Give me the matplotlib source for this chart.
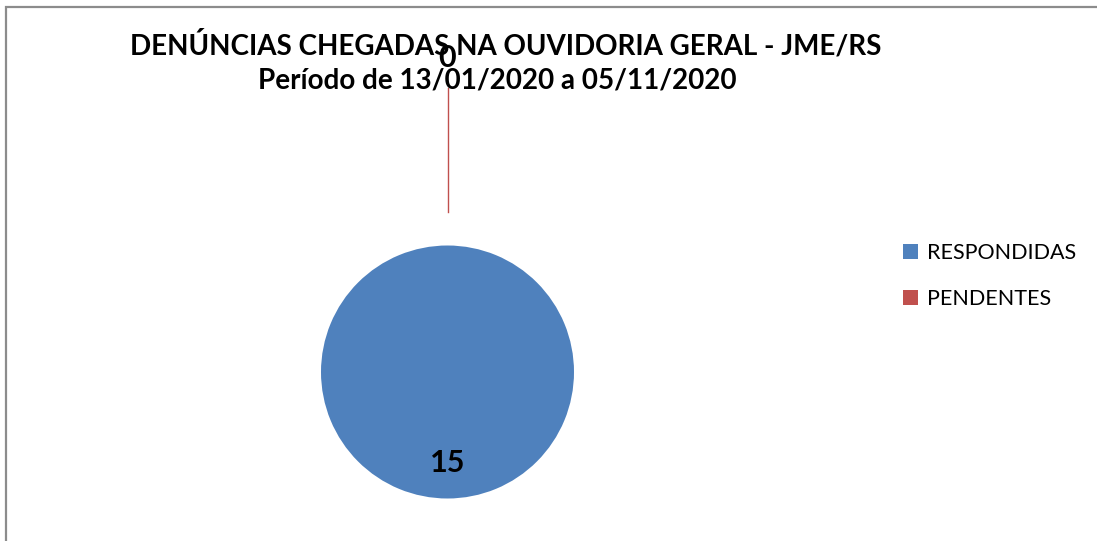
import numpy as np
import matplotlib
matplotlib.use('Agg')
import matplotlib.pyplot as plt
from matplotlib.patches import Rectangle

categories = ['RESPONDIDAS', 'PENDENTES']
values = [15, 0]
colors = ['#4F81BD', '#C0504D']
title1 = 'DENÚNCIAS CHEGADAS NA OUVIDORIA GERAL - JME/RS'
title2 = 'Período de 13/01/2020 a 05/11/2020'

plt.rcParams['font.family'] = ['Lato', 'DejaVu Sans']

W, H = 1097, 541
fig = plt.figure(figsize=(W / 100, H / 100), dpi=100)

# pie placement in pixels
cx, cy, r = 447.5, 372, 126.5
ax = fig.add_axes([(cx - r) / W, (H - cy - r) / H, 2 * r / W, 2 * r / H])
wedges, _ = ax.pie(values, colors=colors, startangle=90, counterclock=False,
                   radius=1, wedgeprops=dict(linewidth=0))
ax.set_xlim(-1, 1)
ax.set_ylim(-1, 1)
ax.axis('off')

# data labels
for w, v in zip(wedges, values):
    mid = np.deg2rad((w.theta1 + w.theta2) / 2)
    if v > 0:
        ax.text(0.72 * np.cos(mid), 0.72 * np.sin(mid), str(v), ha='center', va='center',
                fontsize=22, fontweight='bold', color='black')
    else:
        ax.plot([1.265 * np.cos(mid), 2.245 * np.cos(mid)],
                [1.265 * np.sin(mid), 2.245 * np.sin(mid)],
                color=w.get_facecolor(), lw=1, clip_on=False)
        ax.text(2.48 * np.cos(mid), 2.48 * np.sin(mid), str(v), ha='center', va='center',
                fontsize=22, fontweight='bold', color='black', clip_on=False)

fig.text(506 / W, 1 - 45 / H, title1, ha='center', va='center', fontsize=20, fontweight='bold')
fig.text(497 / W, 1 - 81 / H, title2, ha='center', va='center', fontsize=20, fontweight='bold')

fig.legend(wedges, categories, loc='upper left', bbox_to_anchor=(884 / W, 1 - 224 / H),
           frameon=False, fontsize=15.5, handlelength=0.7, handleheight=0.7,
           handletextpad=0.4, labelspacing=1.2)

# chart frame (right edge runs off the picture)
fig.patches.append(Rectangle((6 / W, -0.05), 1095 / W, 1.05 - 7 / H, transform=fig.transFigure,
                             fill=False, edgecolor='#8C8C8C', lw=1.6))

fig.savefig('out.png', dpi=100)
